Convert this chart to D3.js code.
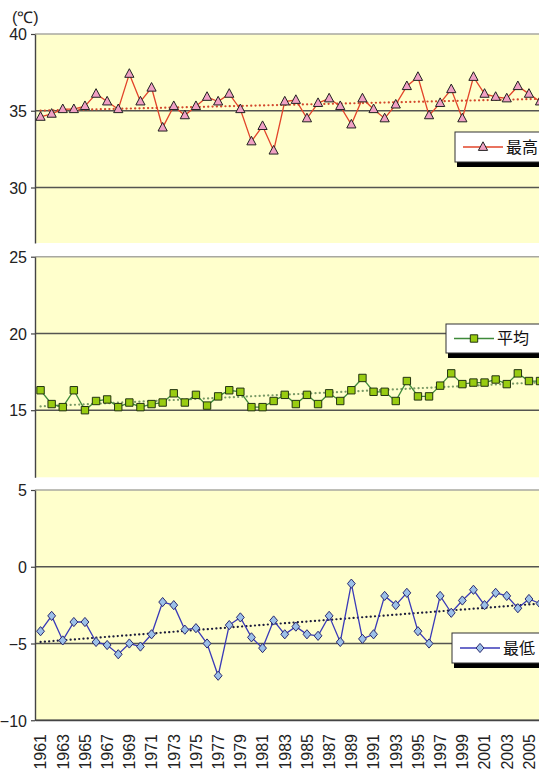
<!DOCTYPE html>
<html>
<head>
<meta charset="utf-8">
<script src="https://cdn.jsdelivr.net/npm/d3@7/dist/d3.min.js"></script>
<style>
  html, body { margin: 0; padding: 0; background: #fff; }
  svg { display: block; }
  .tick text { font-family: "Liberation Sans", Arial, sans-serif; fill: #222; }
</style>
</head>
<body>
<svg id="chart" width="539" height="772"></svg>
<script>
// Annual extreme temperatures, 1961–2006 (°C)
const years = [1961,1962,1963,1964,1965,1966,1967,1968,1969,1970,
               1971,1972,1973,1974,1975,1976,1977,1978,1979,1980,
               1981,1982,1983,1984,1985,1986,1987,1988,1989,1990,
               1991,1992,1993,1994,1995,1996,1997,1998,1999,2000,
               2001,2002,2003,2004,2005,2006];

const maxTemp = [34.6,34.8,35.1,35.1,35.3,36.1,35.6,35.1,37.4,35.6,
                 36.5,33.9,35.3,34.7,35.3,35.9,35.6,36.1,35.1,33.0,
                 34.0,32.4,35.6,35.7,34.5,35.5,35.8,35.3,34.1,35.8,
                 35.1,34.5,35.4,36.6,37.2,34.7,35.5,36.4,34.5,37.2,
                 36.1,35.9,35.8,36.6,36.1,35.6];

const meanTemp = [16.3,15.4,15.2,16.3,15.0,15.6,15.7,15.2,15.5,15.2,
                  15.4,15.5,16.1,15.5,16.0,15.3,15.9,16.3,16.2,15.2,
                  15.2,15.6,16.0,15.4,16.0,15.4,16.1,15.6,16.3,17.1,
                  16.2,16.2,15.6,16.9,15.9,15.9,16.6,17.4,16.7,16.8,
                  16.8,17.0,16.7,17.4,16.9,16.9];

const minTemp = [-4.2,-3.2,-4.8,-3.6,-3.6,-4.9,-5.1,-5.7,-5.0,-5.2,
                 -4.4,-2.3,-2.5,-4.1,-4.0,-5.0,-7.1,-3.8,-3.3,-4.6,
                 -5.3,-3.5,-4.4,-3.9,-4.4,-4.5,-3.2,-4.9,-1.1,-4.7,
                 -4.4,-1.9,-2.5,-1.7,-4.2,-5.0,-1.9,-3.0,-2.2,-1.5,
                 -2.5,-1.7,-1.9,-2.7,-2.1,-2.4];

const seriesNames = ["最高", "平均", "最低"];
const maxTicks  = [30, 35, 40];
const meanTicks = [15, 20, 25];
const minTicks  = [-10, -5, 0, 5];
const yearLabels = years.filter(y => y % 2 === 1);
const unitLabel = "(℃)";

// ---------------------------------------------------------------
const svg = d3.select("#chart");
const FONT = "'Liberation Sans', Arial, sans-serif";
const CJK = "'Noto Sans CJK JP', 'Noto Sans CJK SC', sans-serif";
const plotLeft = 35;
const step = 11.1;
const plotRight = plotLeft + step * years.length;
const pxPerDeg = 15.35;

const x = d3.scaleBand().domain(years).range([plotLeft, plotRight]).paddingInner(0).paddingOuter(0);
const cx = yr => x(yr) + x.bandwidth() / 2;

function linearFit(xs, ys) {
  const n = xs.length;
  const mx = d3.mean(xs), my = d3.mean(ys);
  let num = 0, den = 0;
  for (let i = 0; i < n; i++) { num += (xs[i] - mx) * (ys[i] - my); den += (xs[i] - mx) ** 2; }
  const b = num / den;
  return t => my + b * (t - mx);
}

const marker = {
  triangle: "M0,-5.2L4.6,3.4L-4.6,3.4Z",
  square:   "M-3.7,-3.7L3.7,-3.7L3.7,3.7L-3.7,3.7Z",
  diamond:  "M0,-4.6L3.9,0L0,4.6L-3.9,0Z"
};

const panels = [
  { name: seriesNames[0], values: maxTemp, ticks: maxTicks, top: 34, bottom: 243,
    topVal: 40, line: "#e2442a", trend: "#d2482c", fill: "#f0a0c4", stroke: "#222",
    shape: marker.triangle, legend: { x: 455, y: 132, h: 30 } },
  { name: seriesNames[1], values: meanTemp, ticks: meanTicks, top: 256.7, bottom: 477.3,
    topVal: 25, line: "#3f8a3a", trend: "#7a9a66", fill: "#99cc11", stroke: "#223311",
    shape: marker.square, legend: { x: 446, y: 324, h: 29 } },
  { name: seriesNames[2], values: minTemp, ticks: minTicks, top: 490, bottom: 720,
    topVal: 5, line: "#3a3ab8", trend: "#1c1c3c", fill: "#9cc0e8", stroke: "#2a2a70",
    shape: marker.diamond, legend: { x: 452, y: 633, h: 30 } }
];

panels.forEach((p, idx) => {
  const botVal = p.topVal - (p.bottom - p.top) / pxPerDeg;
  const y = d3.scaleLinear().domain([botVal, p.topVal]).range([p.bottom, p.top]);
  const g = svg.append("g");

  // plot background
  g.append("rect").attr("x", plotLeft).attr("y", p.top)
    .attr("width", plotRight - plotLeft).attr("height", p.bottom - p.top)
    .attr("fill", "#ffffcc");

  // top border
  g.append("line").attr("x1", plotLeft).attr("x2", plotRight)
    .attr("y1", p.top).attr("y2", p.top)
    .attr("stroke", "#a8a8a0").attr("stroke-width", 1.5);

  // gridlines (all ticks below the top)
  g.selectAll(".grid").data(p.ticks.filter(t => t < p.topVal)).join("line")
    .attr("x1", plotLeft).attr("x2", plotRight)
    .attr("y1", d => y(d)).attr("y2", d => y(d))
    .attr("stroke", "#555550").attr("stroke-width", 1.4);

  // left axis
  const axis = d3.axisLeft(y).tickValues(p.ticks).tickSize(4).tickSizeOuter(0).tickPadding(4)
    .tickFormat(d3.format("d"));
  const ag = g.append("g").attr("transform", `translate(${plotLeft},0)`).call(axis);
  ag.select(".domain").attr("stroke", "#444").attr("stroke-width", 1.4);
  ag.selectAll(".tick line").attr("stroke", "#444").attr("stroke-width", 1.2);
  ag.selectAll(".tick text").attr("font-size", 16).attr("font-family", FONT)
    .attr("dy", "0.36em").attr("x", -8);

  // linear trend (dotted)
  const fit = linearFit(years, p.values);
  const first = years[0], last = years[years.length - 1];
  g.append("line")
    .attr("x1", cx(first)).attr("y1", y(fit(first)))
    .attr("x2", cx(last)).attr("y2", y(fit(last)))
    .attr("stroke", p.trend).attr("stroke-width", 2.2)
    .attr("stroke-dasharray", "0.1 4.2").attr("stroke-linecap", "round");

  // data line
  const lineGen = d3.line().x((d, i) => cx(years[i])).y(d => y(d));
  g.append("path").datum(p.values).attr("d", lineGen)
    .attr("fill", "none").attr("stroke", p.line).attr("stroke-width", 1.3);

  // markers
  g.selectAll(".mk").data(p.values).join("path")
    .attr("d", p.shape)
    .attr("transform", (d, i) => `translate(${cx(years[i])},${y(d)})`)
    .attr("fill", p.fill).attr("stroke", p.stroke).attr("stroke-width", 1);

  // legend box with shadow
  const L = p.legend;
  const lw = 120;
  g.append("rect").attr("x", L.x + 2).attr("y", L.y + 5).attr("width", lw).attr("height", L.h)
    .attr("fill", "#000");
  g.append("rect").attr("x", L.x).attr("y", L.y).attr("width", lw).attr("height", L.h)
    .attr("fill", "#fff").attr("stroke", "#333").attr("stroke-width", 1);
  const ly = L.y + L.h / 2;
  g.append("line").attr("x1", L.x + 8).attr("x2", L.x + 48).attr("y1", ly).attr("y2", ly)
    .attr("stroke", p.line).attr("stroke-width", 1.3);
  g.append("path").attr("d", p.shape).attr("transform", `translate(${L.x + 28},${ly})`)
    .attr("fill", p.fill).attr("stroke", p.stroke).attr("stroke-width", 1);
  g.append("text").attr("x", L.x + 51).attr("y", ly).attr("dy", "0.36em")
    .attr("font-family", CJK).attr("font-size", 16).attr("fill", "#111")
    .text(p.name);

  if (idx === panels.length - 1) {
    // bottom category axis, labels rotated upright
    const xa = d3.axisBottom(x).tickValues(yearLabels).tickSize(0).tickSizeOuter(0);
    const xg = g.append("g").attr("transform", `translate(0,${p.bottom})`).call(xa);
    xg.select(".domain").attr("stroke", "#444").attr("stroke-width", 1.4);
    xg.selectAll(".tick text")
      .attr("font-family", FONT).attr("font-size", 16)
      .attr("transform", "rotate(-90)")
      .attr("text-anchor", "end")
      .attr("x", -14).attr("y", 0).attr("dy", "0.36em");
  }
});

// unit label
svg.append("text").attr("x", 12).attr("y", 23)
  .attr("font-family", FONT).attr("font-size", 16).attr("fill", "#222")
  .text(unitLabel);
</script>
</body>
</html>
